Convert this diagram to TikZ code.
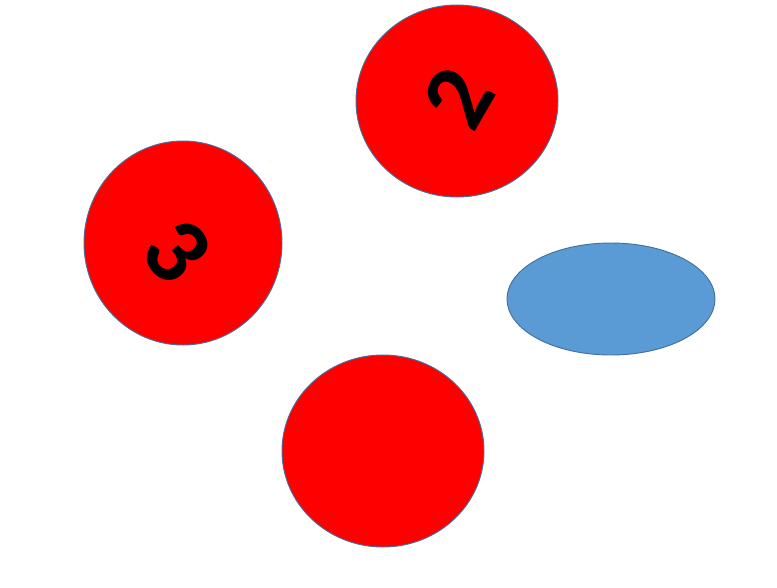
\documentclass[tikz,border=0pt]{standalone}
\usepackage{fontspec}
\setmainfont{Carlito}
\usepackage{tikz}
\usetikzlibrary{shapes.geometric, positioning}
\definecolor{myred}{rgb}{1.0, 0.0, 0.0}
\definecolor{myblue}{RGB}{91, 155, 213}
\definecolor{myedge}{RGB}{65, 113, 156}
\tikzstyle{disc} = [ellipse, draw=myedge, fill=myred, line width=0.8pt, inner sep=0pt]
\tikzstyle{digit} = [font=\fontsize{82}{82}\selectfont\bfseries, text=black, inner sep=0pt]

\begin{document}
\begin{tikzpicture}[x=0.03cm, y=-0.03cm]
\useasboundingbox (0,0) rectangle (777,588);

\node[disc, minimum width=6.06cm, minimum height=5.76cm] (two) at (457,101) {};
\node[disc, minimum width=5.94cm, minimum height=6.12cm] (three) at (183,243) {};
\node[disc, minimum width=6.06cm, minimum height=5.76cm] (bottom) at (383,451) {};
\node[disc, fill=myblue, minimum width=6.24cm, minimum height=3.36cm] (oval) at (611,299) {};

\node[digit, rotate=60] (twolabel) at (458,98) {2};
\node[digit, rotate=-50] (threelabel) at (177,251) {3};
\end{tikzpicture}
\end{document}
